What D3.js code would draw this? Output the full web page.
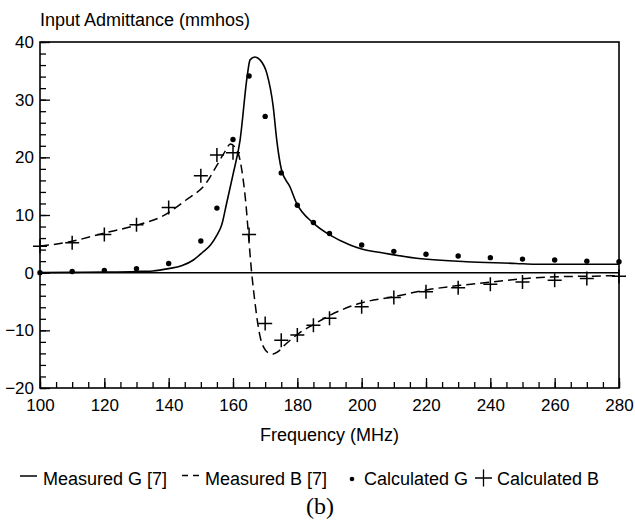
<!DOCTYPE html>
<html>
<head>
<meta charset="utf-8">
<script src="https://cdn.jsdelivr.net/npm/d3@7/dist/d3.min.js"></script>
<style>
  html, body { margin: 0; padding: 0; background: #fff; }
  svg { display: block; }
  text { font-family: "Liberation Sans", Arial, Helvetica, sans-serif; fill: #000; }
</style>
</head>
<body>
<svg id="chart" width="635" height="527"></svg>
<script>
// ---- Data ----
const xTickValues = [100, 120, 140, 160, 180, 200, 220, 240, 260, 280];
const yTickValues = [-20, -10, 0, 10, 20, 30, 40];

// Measured G [7] (solid curve)
const measuredGFreq = [100, 110, 120, 130, 135, 140, 144, 147.7, 150.5, 153, 155, 156.5, 158, 160, 162.2, 164.4, 165.3, 166.8, 168.4, 170.5, 172.5, 173.6, 175.1, 177.7, 179.8, 185, 190.2, 196.4, 200, 206.7, 217, 232.6, 248, 254, 280];
const measuredGVal  = [0, 0.05, 0.1, 0.2, 0.3, 0.7, 1.2, 2.2, 3.5, 4.8, 6.5, 8.3, 12.0, 17.0, 23.0, 34.0, 36.9, 37.4, 36.9, 34.6, 28.8, 23.0, 17.8, 14.9, 12.0, 8.6, 6.5, 4.8, 4.1, 3.4, 2.5, 1.9, 1.6, 1.45, 1.45];

// Measured B [7] (dashed curve)
const measuredBFreq = [100, 108.8, 119.5, 129.8, 138.1, 145.4, 151.6, 155.4, 157.5, 159.2, 160.8, 162.2, 163.2, 164.0, 164.8, 165.8, 166.8, 167.8, 168.6, 169.6, 171, 172.5, 174, 175.6, 178, 180.8, 185, 189.1, 194, 199.5, 209.8, 220.2, 230.6, 241, 251.3, 261.7, 272, 280];
const measuredBVal  = [4.6, 5.3, 6.8, 8.2, 9.8, 12.6, 15.5, 19.0, 21.0, 22.3, 21.6, 19.5, 16.0, 12.0, 6.6, 0, -5.0, -9.2, -11.5, -13.0, -13.9, -14.1, -13.7, -12.8, -11.6, -10.4, -9.0, -7.7, -6.4, -5.3, -4.2, -3.0, -2.2, -1.6, -1.0, -0.7, -0.6, -0.5];

// Calculated G (dots)
const calcGFreq = [100, 110, 120, 130, 140, 150, 155, 160, 165, 170, 175, 180, 185, 190, 200, 210, 220, 230, 240, 250, 260, 270, 280];
const calcGVal  = [0, 0.2, 0.4, 0.7, 1.6, 5.5, 11.2, 23.1, 34.1, 27.1, 17.3, 11.7, 8.7, 6.8, 4.8, 3.7, 3.2, 2.9, 2.6, 2.35, 2.2, 2.0, 1.9];

// Calculated B (plus signs)
const calcBFreq = [100, 110, 120, 130, 140, 150, 155, 160, 165, 170, 175, 180, 185, 190, 200, 210, 220, 230, 240, 250, 260, 270, 280];
const calcBVal  = [4.6, 5.2, 6.6, 8.3, 11.3, 16.8, 20.4, 20.8, 6.6, -8.8, -11.7, -10.8, -9.1, -7.9, -5.9, -4.3, -3.3, -2.6, -2.0, -1.6, -1.3, -1.0, -0.6];

const titleText = "Input Admittance (mmhos)";
const xLabelText = "Frequency (MHz)";
const legendLabels = ["Measured G [7]", "Measured B [7]", "Calculated G", "Calculated B"];
const captionText = "(b)";

// ---- Layout ----
const svg = d3.select("#chart");
const L = 40, R = 619, T = 42, B = 388;
const x = d3.scaleLinear().domain([100, 280]).range([L, R]);
const y = d3.scaleLinear().domain([-20, 40]).range([B, T]);

svg.append("rect").attr("width", 635).attr("height", 527).attr("fill", "#fff");

// Minor ticks
const yMinor = d3.range(-20, 40.01, 2);
const xMinor = d3.range(100, 280.01, 5);

const gyMinor = svg.append("g").attr("transform", `translate(${L},0)`)
  .call(d3.axisLeft(y).tickValues(yMinor).tickSize(-6).tickSizeOuter(0).tickFormat(""));
const gxMinor = svg.append("g").attr("transform", `translate(0,${B})`)
  .call(d3.axisBottom(x).tickValues(xMinor).tickSize(-6).tickSizeOuter(0).tickFormat(""));

// Major axes
const gy = svg.append("g").attr("transform", `translate(${L},0)`)
  .call(d3.axisLeft(y).tickValues(yTickValues).tickSize(-10).tickSizeOuter(0).tickPadding(6).tickFormat(d3.format("d")));
const gx = svg.append("g").attr("transform", `translate(0,${B})`)
  .call(d3.axisBottom(x).tickValues(xTickValues).tickSize(-10).tickSizeOuter(0).tickPadding(10.5).tickFormat(d3.format("d")));

[gyMinor, gxMinor, gy, gx].forEach(g => {
  g.select(".domain").remove();
  g.selectAll(".tick line").attr("stroke", "#000").attr("stroke-width", 1.3);
});
gy.selectAll(".tick text").attr("font-size", 17).attr("font-family", "Liberation Sans, Arial, sans-serif").attr("fill", "#000");
gx.selectAll(".tick text").attr("font-size", 17).attr("font-family", "Liberation Sans, Arial, sans-serif").attr("fill", "#000");

// Frame
svg.append("rect").attr("x", L).attr("y", T).attr("width", R - L).attr("height", B - T)
  .attr("fill", "none").attr("stroke", "#000").attr("stroke-width", 1.6);

// Zero line
svg.append("line").attr("x1", L).attr("x2", R).attr("y1", y(0)).attr("y2", y(0))
  .attr("stroke", "#000").attr("stroke-width", 1.5);

// Curves
const lineGen = d3.line().x(d => x(d[0])).y(d => y(d[1])).curve(d3.curveMonotoneX);
const gData = measuredGFreq.map((f, i) => [f, measuredGVal[i]]);
const bData = measuredBFreq.map((f, i) => [f, measuredBVal[i]]);

svg.append("path").datum(gData).attr("d", lineGen)
  .attr("fill", "none").attr("stroke", "#000").attr("stroke-width", 1.6);
svg.append("path").datum(bData).attr("d", lineGen)
  .attr("fill", "none").attr("stroke", "#000").attr("stroke-width", 1.5).attr("stroke-dasharray", "9,5");

// Calculated G dots
svg.append("g").selectAll("circle").data(calcGFreq.map((f, i) => [f, calcGVal[i]])).join("circle")
  .attr("cx", d => x(d[0])).attr("cy", d => y(d[1])).attr("r", 2.7).attr("fill", "#000");

// Calculated B pluses
const plusSize = 7;
svg.append("g").selectAll("path").data(calcBFreq.map((f, i) => [f, calcBVal[i]])).join("path")
  .attr("d", d => {
    const cx = x(d[0]), cy = y(d[1]);
    return `M${cx - plusSize},${cy}H${cx + plusSize}M${cx},${cy - plusSize}V${cy + plusSize}`;
  })
  .attr("stroke", "#000").attr("stroke-width", 1.5).attr("fill", "none");

// Title
svg.append("text").attr("x", 40).attr("y", 26).attr("font-size", 18).text(titleText);

// X label
svg.append("text").attr("x", (L + R) / 2).attr("y", 441).attr("text-anchor", "middle")
  .attr("font-size", 18).text(xLabelText);

// Legend
const ly = 485;
svg.append("line").attr("x1", 20).attr("x2", 37).attr("y1", 476).attr("y2", 476)
  .attr("stroke", "#000").attr("stroke-width", 1.5);
svg.append("text").attr("x", 43).attr("y", ly).attr("font-size", 18).text(legendLabels[0]);
svg.append("line").attr("x1", 182).attr("x2", 200).attr("y1", 475.5).attr("y2", 475.5)
  .attr("stroke", "#000").attr("stroke-width", 1.5).attr("stroke-dasharray", "6,5");
svg.append("text").attr("x", 205).attr("y", ly).attr("font-size", 18).text(legendLabels[1]);
svg.append("circle").attr("cx", 352).attr("cy", 479).attr("r", 2.3).attr("fill", "#000");
svg.append("text").attr("x", 364).attr("y", ly).attr("font-size", 18).text(legendLabels[2]);
svg.append("path").attr("d", "M475,478H492M483.5,469.5V486.5")
  .attr("stroke", "#000").attr("stroke-width", 1.3).attr("fill", "none");
svg.append("text").attr("x", 497).attr("y", ly).attr("font-size", 18).text(legendLabels[3]);

// Caption
svg.append("text").attr("x", 320).attr("y", 514).attr("text-anchor", "middle")
  .attr("font-size", 24).style("font-family", "'Liberation Serif', 'Times New Roman', serif").text(captionText);
</script>
</body>
</html>
